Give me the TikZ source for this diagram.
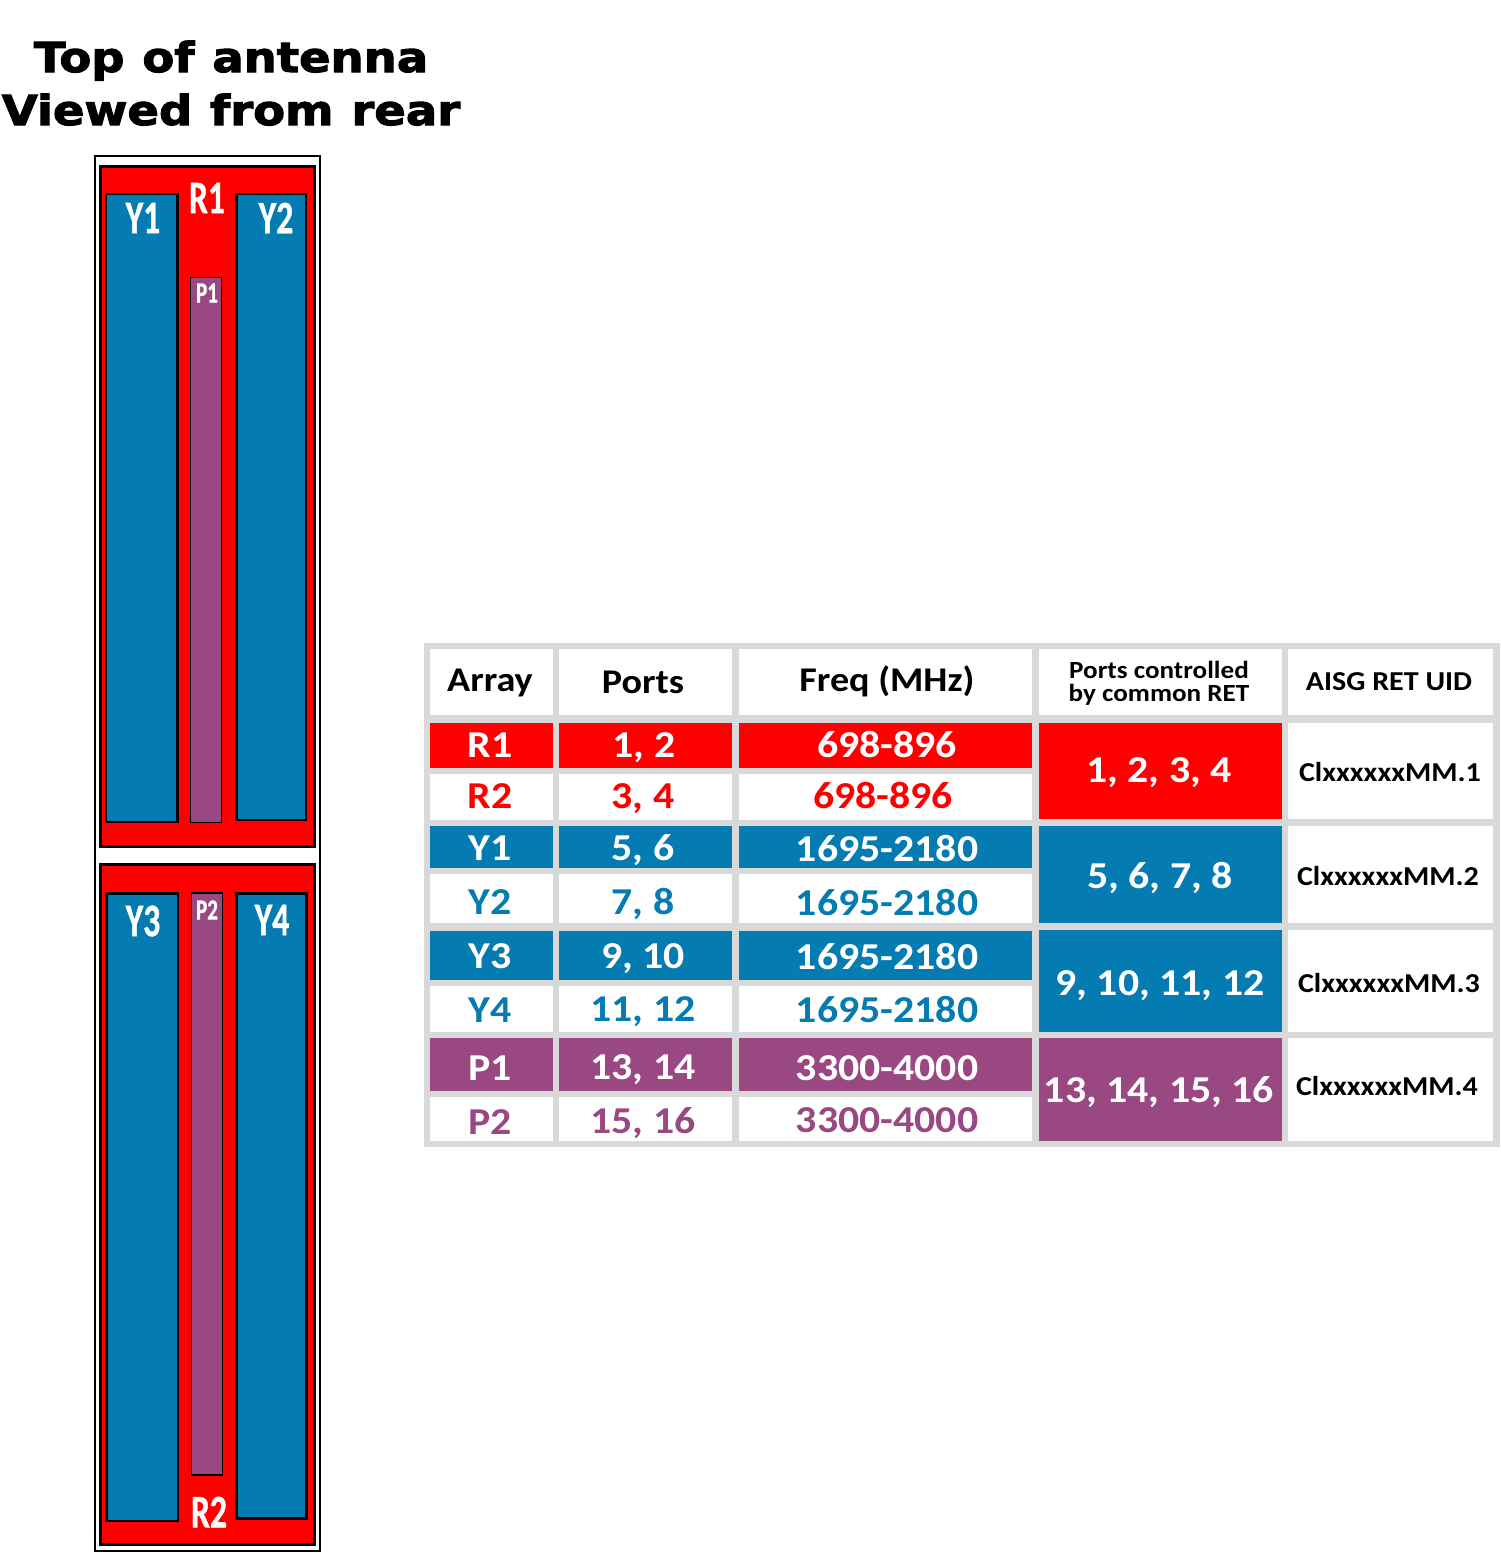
\documentclass[tikz,border=0pt]{standalone}
\usepackage{fontspec}
\usepackage{tikz}
\newfontfamily\titlefont{DejaVu Sans}[FakeStretch=1.125,FakeBold=2.5,WordSpace=1.1]
\newfontfamily\tablefont{Carlito}[FakeStretch=1.1]
\newfontfamily\arrayfont{Carlito}[FakeStretch=0.72,FakeBold=0.8]
\definecolor{arrayred}{RGB}{255,0,0}
\definecolor{arrayblue}{RGB}{4,124,178}
\definecolor{arraypurple}{RGB}{154,72,130}
\definecolor{tablegrey}{RGB}{217,217,217}
\tikzset{
  titletext/.style={inner sep=0pt,anchor=base,font=\titlefont\fontsize{31}{31}\selectfont\bfseries},
  arraylabel/.style={inner sep=0pt,text=white,font=\arrayfont\fontsize{35}{35}\selectfont\bfseries},
  smalllabel/.style={inner sep=0pt,text=white,font=\arrayfont\fontsize{22}{22}\selectfont\bfseries},
  cellbig/.style={inner sep=0pt,text height=20pt,text depth=0pt,font=\tablefont\fontsize{28.5}{28.5}\selectfont\bfseries},
  cellhead/.style={inner sep=0pt,text height=19pt,text depth=0pt,font=\tablefont\fontsize{26}{26}\selectfont\bfseries},
  cellsmall/.style={inner sep=0pt,align=center,font=\tablefont\fontsize{18.5}{17.5}\selectfont\bfseries},
  celluid/.style={inner sep=0pt,text height=14.5pt,text depth=0pt,font=\tablefont\fontsize{20.5}{20.5}\selectfont\bfseries},
  redpanel/.style={fill=arrayred,draw=black,line width=2.2pt},
  bluepanel/.style={fill=arrayblue,draw=black,line width=1.6pt},
  purplepanel/.style={fill=arraypurple,draw=black,line width=0.8pt}
}
\begin{document}
\begin{tikzpicture}[x=0.75pt,y=0.75pt,yscale=-1,xscale=1]
  \useasboundingbox (0,0) rectangle (1500,1553);
  \fill [white] (0,0) rectangle (1500,1553);

  \node (titletop) [titletext] at (231,72) {Top of antenna};
  \node (titlerear) [titletext] at (231,125) {Viewed from rear};

  \draw [line width=1pt,fill=white] (95,156) rectangle (320,1551);
  \draw [redpanel] (100.5,166.5) rectangle (314.5,846.5);
  \draw [redpanel] (100.5,864.5) rectangle (314.5,1544.5);
  \draw [bluepanel] (106,194) rectangle (177.5,822);
  \draw [bluepanel] (236.5,194) rectangle (306,820);
  \draw [purplepanel] (190.5,277.5) rectangle (221.5,822.5);
  \draw [bluepanel] (106.5,893.5) rectangle (178,1521);
  \draw [bluepanel] (236.5,893.5) rectangle (306.5,1518.5);
  \draw [purplepanel] (191.5,893) rectangle (222.5,1475);

  \node (antr1) [arraylabel] at (207,198) {R1};
  \node (anty1) [arraylabel] at (143,218) {Y1};
  \node (anty2) [arraylabel] at (276,218) {Y2};
  \node (antp1) [smalllabel] at (207,293) {P1};
  \node (anty3) [arraylabel] at (143,921) {Y3};
  \node (anty4) [arraylabel] at (272,920) {Y4};
  \node (antp2) [smalllabel] at (207,910) {P2};
  \node (antr2) [arraylabel] at (209,1512) {R2};

  \fill [tablegrey] (424,643) rectangle (1500,1147);

  \fill [white] (430,649) rectangle (553,715);
  \fill [white] (559,649) rectangle (732,715);
  \fill [white] (739,649) rectangle (1032,715);
  \fill [white] (1039,649) rectangle (1282,715);
  \fill [white] (1288,649) rectangle (1493,715);

  \fill [arrayred] (430,723) rectangle (553,768);
  \fill [arrayred] (559,723) rectangle (732,768);
  \fill [arrayred] (739,723) rectangle (1032,768);
  \fill [white] (430,774) rectangle (553,820);
  \fill [white] (559,774) rectangle (732,820);
  \fill [white] (739,774) rectangle (1032,820);
  \fill [arrayblue] (430,826) rectangle (553,868);
  \fill [arrayblue] (559,826) rectangle (732,868);
  \fill [arrayblue] (739,826) rectangle (1032,868);
  \fill [white] (430,874) rectangle (553,923);
  \fill [white] (559,874) rectangle (732,923);
  \fill [white] (739,874) rectangle (1032,923);
  \fill [arrayblue] (430,931) rectangle (553,980);
  \fill [arrayblue] (559,931) rectangle (732,980);
  \fill [arrayblue] (739,931) rectangle (1032,980);
  \fill [white] (430,986) rectangle (553,1032);
  \fill [white] (559,986) rectangle (732,1032);
  \fill [white] (739,986) rectangle (1032,1032);
  \fill [arraypurple] (430,1038) rectangle (553,1091);
  \fill [arraypurple] (559,1038) rectangle (732,1091);
  \fill [arraypurple] (739,1038) rectangle (1032,1091);
  \fill [white] (430,1097) rectangle (553,1141);
  \fill [white] (559,1097) rectangle (732,1141);
  \fill [white] (739,1097) rectangle (1032,1141);

  \fill [arrayred] (1039,723) rectangle (1282,819);
  \fill [arrayblue] (1039,826) rectangle (1282,923);
  \fill [arrayblue] (1039,930) rectangle (1282,1032);
  \fill [arraypurple] (1039,1038) rectangle (1282,1141);
  \fill [white] (1288,723) rectangle (1493,819);
  \fill [white] (1288,826) rectangle (1493,923);
  \fill [white] (1288,930) rectangle (1493,1032);
  \fill [white] (1288,1038) rectangle (1493,1141);

  \node (headarray) [cellhead] at (490,679) {Array};
  \node (headports) [cellhead] at (643,681) {Ports};
  \node (headfreq) [cellhead] at (887,679) {Freq (MHz)};
  \node (headret) [cellsmall] at (1159,683) {Ports controlled\\by common RET};
  \node (headuid) [cellsmall,font=\tablefont\fontsize{20.5}{20.5}\selectfont\bfseries] at (1389,682) {AISG RET UID};

  \node (arrayr1) [cellbig,text=white] at (490,744) {R1};
  \node (portsr1) [cellbig,text=white] at (644,744) {1, 2};
  \node (freqr1) [cellbig,text=white] at (887,744) {698-896};
  \node (arrayr2) [cellbig,text=arrayred] at (490,795) {R2};
  \node (portsr2) [cellbig,text=arrayred] at (643,795) {3, 4};
  \node (freqr2) [cellbig,text=arrayred] at (883,795) {698-896};
  \node (arrayy1) [cellbig,text=white] at (490,847) {Y1};
  \node (portsy1) [cellbig,text=white] at (643,847) {5, 6};
  \node (freqy1) [cellbig,text=white] at (887,848) {1695-2180};
  \node (arrayy2) [cellbig,text=arrayblue] at (490,901) {Y2};
  \node (portsy2) [cellbig,text=arrayblue] at (643,901) {7, 8};
  \node (freqy2) [cellbig,text=arrayblue] at (887,902) {1695-2180};
  \node (arrayy3) [cellbig,text=white] at (490,955) {Y3};
  \node (portsy3) [cellbig,text=white] at (643,955) {9, 10};
  \node (freqy3) [cellbig,text=white] at (887,956) {1695-2180};
  \node (arrayy4) [cellbig,text=arrayblue] at (490,1009) {Y4};
  \node (portsy4) [cellbig,text=arrayblue] at (643,1008) {11, 12};
  \node (freqy4) [cellbig,text=arrayblue] at (887,1009) {1695-2180};
  \node (arrayp1) [cellbig,text=white] at (490,1067) {P1};
  \node (portsp1) [cellbig,text=white] at (643,1066) {13, 14};
  \node (freqp1) [cellbig,text=white] at (887,1067) {3300-4000};
  \node (arrayp2) [cellbig,text=arraypurple] at (490,1121) {P2};
  \node (portsp2) [cellbig,text=arraypurple] at (643,1120) {15, 16};
  \node (freqp2) [cellbig,text=arraypurple] at (887,1119) {3300-4000};

  \node (retred) [cellbig,text=white] at (1159,769) {1, 2, 3, 4};
  \node (retblue) [cellbig,text=white] at (1160,875) {5, 6, 7, 8};
  \node (retblue2) [cellbig,text=white] at (1160,982) {9, 10, 11, 12};
  \node (retpurple) [cellbig,text=white] at (1159,1089) {13, 14, 15, 16};

  \node (uidone) [celluid] at (1390,772) {ClxxxxxxMM.1};
  \node (uidtwo) [celluid] at (1388,876) {ClxxxxxxMM.2};
  \node (uidthree) [celluid] at (1389,983) {ClxxxxxxMM.3};
  \node (uidfour) [celluid] at (1387,1086) {ClxxxxxxMM.4};
\end{tikzpicture}
\end{document}
